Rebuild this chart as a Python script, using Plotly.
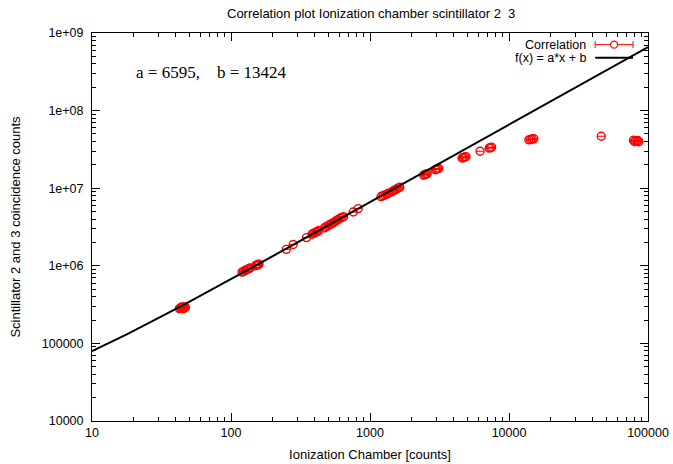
import numpy as np
import plotly.graph_objects as go

# Fit parameters of f(x) = a*x + b
A_FIT = 6595
B_FIT = 13424

# Ionization chamber counts (x) and scintillator 2&3 coincidence counts (y)
ion_counts = [
    42.5, 43.3, 44.0, 44.6, 45.2, 45.8, 46.4, 47.0, 44.2, 45.5,
    120, 123, 126, 128, 131, 134, 137,
    150, 153, 155, 157, 159,
    250, 280, 349,
    382, 392, 402, 410, 418, 428,
    470, 485, 500, 515, 530, 545, 560, 575, 590, 610, 630, 645,
    757, 822,
    1200, 1240, 1280, 1320, 1360,
    1440, 1480, 1520, 1560, 1600, 1640,
    2430, 2480, 2530, 2580,
    2950, 3000, 3060, 3120,
    4600, 4700, 4800, 4900,
    6190,
    7200, 7350, 7500,
    13900, 14300, 14700, 15100,
    46100,
    78500, 81000, 83500, 86000, 80000, 84500,
]
scint_counts = [
    281e3, 284e3, 288e3, 283e3, 292e3, 287e3, 295e3, 290e3, 296e3, 280e3,
    830e3, 845e3, 870e3, 880e3, 900e3, 915e3, 935e3,
    1.00e6, 1.02e6, 1.03e6, 1.04e6, 1.05e6,
    1.63e6, 1.88e6, 2.31e6,
    2.55e6, 2.62e6, 2.68e6, 2.72e6, 2.78e6, 2.85e6,
    3.08e6, 3.20e6, 3.30e6, 3.40e6, 3.50e6, 3.60e6, 3.70e6, 3.85e6, 3.95e6, 4.10e6, 4.20e6, 4.30e6,
    4.94e6, 5.46e6,
    7.8e6, 8.0e6, 8.2e6, 8.4e6, 8.6e6,
    9.0e6, 9.3e6, 9.6e6, 9.8e6, 1.01e7, 1.03e7,
    1.47e7, 1.50e7, 1.52e7, 1.54e7,
    1.73e7, 1.76e7, 1.78e7, 1.80e7,
    2.45e7, 2.48e7, 2.52e7, 2.55e7,
    2.99e7,
    3.28e7, 3.33e7, 3.38e7,
    4.20e7, 4.25e7, 4.30e7, 4.33e7,
    4.67e7,
    4.15e7, 4.08e7, 4.02e7, 3.97e7, 4.00e7, 4.12e7,
]

x_tick_vals = [10, 100, 1000, 10000, 100000]
x_tick_text = ["10", "100", "1000", "10000", "100000"]
y_tick_vals = [1e4, 1e5, 1e6, 1e7, 1e8, 1e9]
y_tick_text = ["10000", "100000", "1e+06", "1e+07", "1e+08", "1e+09"]

x_minor = [m * 10 ** d for d in range(1, 5) for m in range(2, 10)]
y_minor = [m * 10 ** d for d in range(4, 9) for m in range(2, 10)]

RED = "#ff0000"
FONT = "Liberation Sans, Arial, Helvetica, sans-serif"

fig = go.Figure()

fig.add_trace(go.Scatter(
    x=ion_counts, y=scint_counts, mode="markers", name="Correlation",
    marker=dict(symbol="circle-open", size=8, color=RED, line=dict(width=1.4, color=RED)),
    error_x=dict(type="percent", value=6, color=RED, thickness=1, width=0),
    showlegend=False,
))

fit_x = np.logspace(1, 5, 300)
fig.add_trace(go.Scatter(
    x=fit_x, y=A_FIT * fit_x + B_FIT, mode="lines", name="f(x) = a*x + b",
    line=dict(color="black", width=2), showlegend=False,
))

axis_common = dict(
    type="log", showline=True, linecolor="black", linewidth=1, mirror="allticks",
    ticks="inside", ticklen=8, tickcolor="black", tickwidth=1,
    showgrid=False, zeroline=False, automargin=False,
    tickfont=dict(family=FONT, size=12.5, color="black"),
)

fig.update_xaxes(
    range=[1, 5], tickvals=x_tick_vals, ticktext=x_tick_text,
    minor=dict(ticks="inside", ticklen=4, tickcolor="black", tickvals=x_minor, showgrid=False),
    title=dict(text="Ionization Chamber [counts]", font=dict(family=FONT, size=13, color="black"), standoff=10),
    **axis_common,
)
fig.update_yaxes(
    range=[4, 9], tickvals=y_tick_vals, ticktext=y_tick_text, ticklabelstandoff=5,
    minor=dict(ticks="inside", ticklen=4, tickcolor="black", tickvals=y_minor, showgrid=False),
    title=dict(text="Scintillator 2 and 3 coincidence counts", font=dict(family=FONT, size=13, color="black"), standoff=18),
    **axis_common,
)

# Key drawn gnuplot-style: label on the left, sample on the right
shapes = [
    dict(type="line", xref="paper", yref="paper", x0=0.905, x1=0.973, y0=0.970, y1=0.970,
         line=dict(color=RED, width=1)),
    dict(type="line", xref="paper", yref="paper", x0=0.905, x1=0.905, y0=0.961, y1=0.979,
         line=dict(color=RED, width=1)),
    dict(type="line", xref="paper", yref="paper", x0=0.973, x1=0.973, y0=0.961, y1=0.979,
         line=dict(color=RED, width=1)),
    dict(type="circle", xref="paper", yref="paper", xsizemode="pixel", ysizemode="pixel",
         xanchor=0.939, yanchor=0.970, x0=-3.5, x1=3.5, y0=-3.5, y1=3.5,
         line=dict(color=RED, width=1.3), fillcolor="white"),
    dict(type="line", xref="paper", yref="paper", x0=0.905, x1=0.973, y0=0.936, y1=0.936,
         line=dict(color="black", width=2)),
]

annotations = [
    dict(text="Correlation", xref="paper", yref="paper", x=0.890, y=0.970,
         xanchor="right", yanchor="middle", showarrow=False, borderpad=0,
         font=dict(family=FONT, size=12.5, color="black")),
    dict(text="f(x) = a*x + b", xref="paper", yref="paper", x=0.892, y=0.936,
         xanchor="right", yanchor="middle", showarrow=False, borderpad=0,
         font=dict(family=FONT, size=12.5, color="black")),
    dict(text=f"a = {A_FIT},\u00a0\u00a0\u00a0\u00a0b = {B_FIT}", xref="paper", yref="paper",
         x=0.214, y=0.897, xanchor="center", yanchor="middle", showarrow=False,
         font=dict(family="Liberation Serif, Times New Roman, serif", size=17, color="black")),
]

fig.update_layout(
    width=673, height=464,
    margin=dict(l=92, r=25, t=33, b=43),
    paper_bgcolor="white", plot_bgcolor="white",
    title=dict(text="Correlation plot Ionization chamber scintillator 2\u00a0 3",
               x=0.5515, xanchor="center", y=0.972, yanchor="middle",
               font=dict(family=FONT, size=13, color="black")),
    shapes=shapes, annotations=annotations, showlegend=False,
)

fig.write_html("out.html")
